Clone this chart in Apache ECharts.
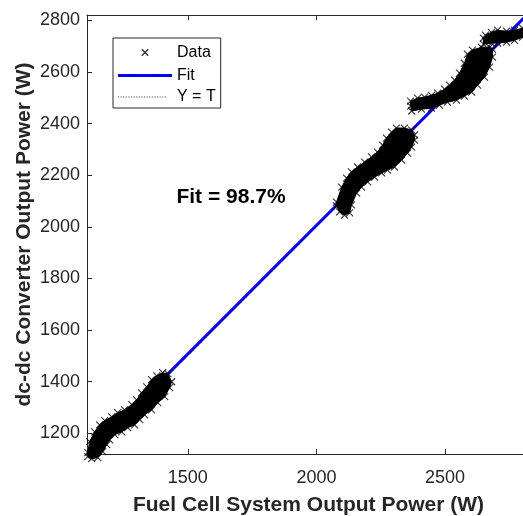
<!DOCTYPE html>
<html>
<head>
<meta charset="utf-8">
<script src="https://cdn.jsdelivr.net/npm/echarts@6/dist/echarts.min.js"></script>
<style>
html,body{margin:0;padding:0;background:#fff;}
#chart{width:523px;height:516px;}
</style>
</head>
<body>
<div id="chart"></div>
<script>
// ---- axis ranges and ticks ----
const xRange = [1108, 2830];
const yRange = [1120, 2821];
const xTicks = [1500, 2000, 2500];
const yTicks = [1200, 1400, 1600, 1800, 2000, 2200, 2400, 2600, 2800];

// ---- texts ----
const xTitle = 'Fuel Cell System Output Power (W)';
const yTitle = 'dc-dc Converter Output Power (W)';
const fitText = 'Fit = 98.7%';
const legendNames = ['Data', 'Fit', 'Y = T'];

// ---- data clusters (outline of the dense "x" markers) ----
const c1Upper = [[1111,1125],[1118,1168],[1138,1206],[1157,1233],[1177,1249],[1204,1264],[1227,1280],[1254,1291],[1282,1311],[1301,1330],[1320,1357],[1340,1380],[1359,1408],[1379,1423],[1402,1435],[1422,1431]];
const c1Lower = [[1437,1400],[1429,1377],[1410,1342],[1383,1319],[1359,1291],[1332,1272],[1313,1253],[1293,1233],[1266,1222],[1243,1206],[1216,1195],[1196,1175],[1185,1156],[1169,1129],[1150,1106],[1126,1102],[1111,1110]];

const c2Upper = [[2078,2096],[2098,2154],[2117,2189],[2136,2213],[2160,2232],[2187,2251],[2214,2271],[2237,2290],[2257,2317],[2272,2344],[2292,2367],[2311,2383],[2342,2383],[2370,2375],[2381,2356]];
const c2Lower = [[2381,2336],[2370,2309],[2354,2286],[2331,2259],[2303,2232],[2276,2220],[2253,2209],[2226,2193],[2199,2174],[2175,2154],[2156,2131],[2136,2085],[2129,2054],[2109,2046],[2090,2058],[2078,2081]];

const c3Upper = [[2366,2487],[2393,2499],[2420,2503],[2447,2510],[2471,2518],[2498,2534],[2517,2549],[2537,2569],[2556,2596],[2575,2634],[2587,2669],[2606,2685],[2641,2696],[2673,2696],[2684,2689]];
const c3Lower = [[2684,2658],[2673,2619],[2653,2580],[2626,2549],[2603,2522],[2575,2507],[2544,2491],[2509,2483],[2478,2472],[2447,2460],[2408,2456],[2370,2449],[2366,2468]];

const c4Upper = [[2649,2731],[2657,2743],[2680,2754],[2704,2762],[2739,2758],[2770,2762],[2801,2770],[2828,2774]];
const c4Lower = [[2828,2739],[2801,2735],[2770,2723],[2739,2716],[2704,2712],[2680,2712],[2649,2708]];

// ---- fit line and identity line ----
const fitLine = [[1108,1117],[2830,2833]];
const identityLine = [[1108,1108],[2830,2830]];

const clusters = [
  c1Upper.concat(c1Lower),
  c2Upper.concat(c2Lower),
  c3Upper.concat(c3Lower),
  c4Upper.concat(c4Lower)
];
const dataPoints = [].concat(c1Upper, c1Lower, c2Upper, c2Lower, c3Upper, c3Lower, c4Upper, c4Lower);

const FONT = '"Liberation Sans", Arial, Helvetica, sans-serif';
const AX = '#262626';

// legend icons (style only)
const fitIcon = 'path://M0,0M54,14M0,5.5L54,5.5L54,8.5L0,8.5Z';
let dotPath = 'path://M0,0M54,14';
for (let i = 0; i < 48; i += 2.6) { dotPath += 'M' + i + ',6.6L' + (i + 1.1) + ',6.6L' + (i + 1.1) + ',7.4L' + i + ',7.4Z'; }
const dataIcon = 'path://M0,0M20,20M5.5,5.5L14.5,14.5M14.5,5.5L5.5,14.5';

const chart = echarts.init(document.getElementById('chart'), null, {renderer: 'canvas'});
const plain = v => String(v);

const option = {
  animation: false,
  backgroundColor: '#fff',
  grid: {left: 87, top: 15, right: -7, bottom: 62, containLabel: false, outerBoundsMode: 'none'},
  xAxis: [{
    type: 'value', min: xRange[0], max: xRange[1], position: 'bottom',
    axisLine: {show: true, onZero: false, lineStyle: {color: AX, width: 1}},
    axisTick: {show: true, inside: true, length: 5, customValues: xTicks, lineStyle: {color: AX}},
    axisLabel: {customValues: xTicks, formatter: plain, fontSize: 18, color: AX, margin: 15, fontFamily: FONT},
    splitLine: {show: false},
    name: xTitle, nameLocation: 'middle', nameGap: 41, nameMoveOverlap: false,
    nameTextStyle: {fontSize: 21, fontWeight: 'bold', color: AX, fontFamily: FONT}
  }, {
    type: 'value', min: xRange[0], max: xRange[1], position: 'top',
    axisLine: {show: true, onZero: false, lineStyle: {color: AX, width: 1}},
    axisTick: {show: true, inside: true, length: 5, customValues: xTicks, lineStyle: {color: AX}},
    axisLabel: {show: false},
    splitLine: {show: false}
  }],
  yAxis: [{
    type: 'value', min: yRange[0], max: yRange[1], position: 'left',
    axisLine: {show: true, onZero: false, lineStyle: {color: AX, width: 1}},
    axisTick: {show: true, inside: true, length: 5, customValues: yTicks, lineStyle: {color: AX}},
    axisLabel: {customValues: yTicks, formatter: plain, fontSize: 18, color: AX, margin: 7, fontFamily: FONT},
    splitLine: {show: false},
    name: yTitle, nameLocation: 'middle', nameGap: 52, nameMoveOverlap: false,
    nameTextStyle: {fontSize: 21, fontWeight: 'bold', color: AX, fontFamily: FONT}
  }],
  legend: {
    orient: 'vertical', left: 113, top: 38,
    padding: [5, 5, 3, 5], itemGap: 5.5, itemWidth: 54, itemHeight: 14,
    borderColor: AX, borderWidth: 1, backgroundColor: '#fff',
    textStyle: {fontSize: 16, color: '#000', fontFamily: FONT},
    selectedMode: false,
    data: [
      {name: legendNames[0], icon: dataIcon, itemStyle: {color: 'none', borderColor: '#000', borderWidth: 1.4}},
      {name: legendNames[1], icon: fitIcon, itemStyle: {color: '#0000ff', borderWidth: 0}},
      {name: legendNames[2], icon: dotPath, itemStyle: {color: '#444', borderWidth: 0}}
    ]
  },
  graphic: [{
    type: 'text', z: 100,
    style: {x: 231, y: 197, text: fitText, align: 'center', verticalAlign: 'middle',
            font: 'bold 21px ' + FONT, fill: '#000'}
  }],
  series: [
    {
      name: legendNames[2], type: 'line', data: identityLine, symbol: 'none', z: 1,
      lineStyle: {color: '#000', width: 0.8, type: 'dotted'}, itemStyle: {color: '#000'}
    },
    {
      name: legendNames[1], type: 'line', data: fitLine, symbol: 'none', z: 2,
      lineStyle: {color: '#0000ff', width: 3}, itemStyle: {color: '#0000ff'}
    },
    {
      name: 'band', type: 'custom', coordinateSystem: 'cartesian2d', clip: false, z: 3,
      data: clusters.map((c, i) => [xRange[0], yRange[0], i]),
      renderItem: function (params, api) {
        const pts = clusters[params.dataIndex].map(p => api.coord(p));
        return {type: 'polygon', shape: {points: pts}, style: {fill: '#000', stroke: '#000', lineWidth: 1}};
      },
      silent: true
    },
    {
      name: legendNames[0], type: 'scatter', data: dataPoints, clip: false, z: 4,
      symbol: 'path://M0,0L10,10M10,0L0,10', symbolSize: 7,
      itemStyle: {color: '#000', borderColor: '#000', borderWidth: 1.1}
    }
  ]
};
chart.setOption(option);
</script>
</body>
</html>
